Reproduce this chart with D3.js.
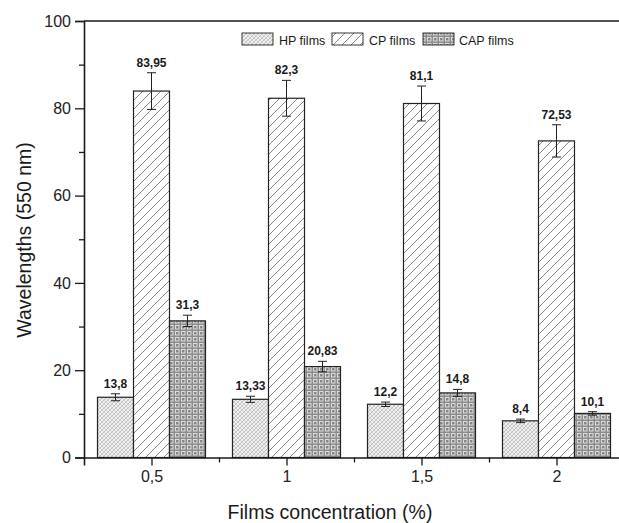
<!DOCTYPE html>
<html>
<head>
<meta charset="utf-8">
<script src="https://cdn.jsdelivr.net/npm/d3@7"></script>
<style>
  html, body { margin: 0; padding: 0; background: #fff; }
  svg { display: block; font-family: Arial, "Liberation Sans", sans-serif; }
</style>
</head>
<body>
<svg id="chart" width="619" height="523"></svg>
<script>
// Film concentrations (%) and measured values at 550 nm
const concentrations = [0.5, 1, 1.5, 2];
const tickLabels = ["0,5", "1", "1,5", "2"];
const seriesNames = ["HP films", "CP films", "CAP films"];
const hpValues  = [13.8, 13.33, 12.2, 8.4];
const cpValues  = [83.95, 82.3, 81.1, 72.53];
const capValues = [31.3, 20.83, 14.8, 10.1];
const hpErrors  = [0.8, 0.7, 0.5, 0.4];
const cpErrors  = [4.2, 4.1, 4.0, 3.7];
const capErrors = [1.3, 1.2, 0.8, 0.4];
const valueLabels = [
  ["13,8", "13,33", "12,2", "8,4"],
  ["83,95", "82,3", "81,1", "72,53"],
  ["31,3", "20,83", "14,8", "10,1"]
];
const yTicks = [0, 20, 40, 60, 80, 100];

const series = [
  { name: seriesNames[0], values: hpValues,  errors: hpErrors,  labels: valueLabels[0], fill: "url(#patHP)" },
  { name: seriesNames[1], values: cpValues,  errors: cpErrors,  labels: valueLabels[1], fill: "url(#patCP)" },
  { name: seriesNames[2], values: capValues, errors: capErrors, labels: valueLabels[2], fill: "url(#patCAP)" }
];

const svg = d3.select("#chart");

// Continuous x axis (0.25 .. 2.25); right end runs past the canvas edge
const x = d3.scaleLinear().domain([0.25, 2.25]).range([84, 624]);
const y = d3.scaleLinear().domain([0, 100]).range([457.5, 21]);

// ---- fill patterns ----
const defs = svg.append("defs");

// HP: fine light-grey cross hatch
const pHP = defs.append("pattern").attr("id", "patHP")
  .attr("patternUnits", "userSpaceOnUse").attr("width", 4).attr("height", 4);
pHP.append("rect").attr("width", 4).attr("height", 4).attr("fill", "#f2f2f2");
pHP.append("path").attr("d", "M0,4 L4,0 M-1,1 L1,-1 M3,5 L5,3")
  .attr("stroke", "#b0b0b0").attr("stroke-width", 0.8);
pHP.append("path").attr("d", "M0,0 L4,4 M-1,3 L1,5 M3,-1 L5,1")
  .attr("stroke", "#c4c4c4").attr("stroke-width", 0.7);

// CP: sparse forward diagonal lines
const pCP = defs.append("pattern").attr("id", "patCP")
  .attr("patternUnits", "userSpaceOnUse").attr("width", 9).attr("height", 9);
pCP.append("rect").attr("width", 9).attr("height", 9).attr("fill", "#fff");
pCP.append("path").attr("d", "M0,9 L9,0 M-2,2 L2,-2 M7,11 L11,7")
  .attr("stroke", "#6a6a6a").attr("stroke-width", 0.8);

// CAP: grey grid of small squares with dots
const pCAP = defs.append("pattern").attr("id", "patCAP")
  .attr("patternUnits", "userSpaceOnUse").attr("width", 6).attr("height", 6);
pCAP.append("rect").attr("width", 6).attr("height", 6).attr("fill", "#8c8c8c");
pCAP.append("rect").attr("x", 1.5).attr("y", 1.5).attr("width", 3.5).attr("height", 3.5)
  .attr("fill", "none").attr("stroke", "#e2e2e2").attr("stroke-width", 0.9);
pCAP.append("rect").attr("x", 2.8).attr("y", 2.8).attr("width", 1).attr("height", 1)
  .attr("fill", "#777");

// ---- bars ----
const barW = 36;
const offsets = [-1.5, -0.5, 0.5];

series.forEach((s, si) => {
  const g = svg.append("g");
  concentrations.forEach((c, i) => {
    const x0 = x(c) + offsets[si] * barW;
    const v = s.values[i];
    g.append("rect")
      .attr("x", x0).attr("y", y(v))
      .attr("width", barW).attr("height", y(0) - y(v))
      .attr("fill", s.fill).attr("stroke", "#222").attr("stroke-width", 1.2);
    // error bar
    const cx = x0 + barW / 2;
    const e = s.errors[i];
    g.append("line").attr("x1", cx).attr("x2", cx)
      .attr("y1", y(v + e)).attr("y2", y(v - e))
      .attr("stroke", "#222").attr("stroke-width", 1);
    [v + e, v - e].forEach(t => {
      g.append("line").attr("x1", cx - 4.5).attr("x2", cx + 4.5)
        .attr("y1", y(t)).attr("y2", y(t))
        .attr("stroke", "#222").attr("stroke-width", 1);
    });
    // value label
    g.append("text")
      .attr("x", cx).attr("y", y(v + e) - 6)
      .attr("text-anchor", "middle")
      .attr("font-size", 12).attr("font-weight", "bold")
      .attr("fill", "#1a1a1a")
      .text(s.labels[i]);
  });
});

// ---- axes ----
const axisColor = "#1a1a1a";

// frame top line
svg.append("line").attr("x1", 84).attr("x2", 619).attr("y1", 21).attr("y2", 21)
  .attr("stroke", axisColor).attr("stroke-width", 1.6);

// y axis
const yAxis = svg.append("g").attr("transform", "translate(84,0)")
  .call(d3.axisLeft(y).tickValues(yTicks).tickSize(9).tickPadding(4).tickFormat(d3.format("d")));
yAxis.selectAll(".tick text").attr("font-size", 16).attr("fill", "#222");
yAxis.select(".domain").attr("stroke", axisColor).attr("stroke-width", 1.6);
yAxis.selectAll(".tick line").attr("stroke", axisColor).attr("stroke-width", 1.3);
const yMinor = svg.append("g").attr("transform", "translate(84,0)")
  .call(d3.axisLeft(y).tickValues([10, 30, 50, 70, 90]).tickSize(5).tickFormat(""));
yMinor.select(".domain").remove();
yMinor.selectAll(".tick line").attr("stroke", axisColor).attr("stroke-width", 1.3);

// x axis
const xAxis = svg.append("g").attr("transform", `translate(0,${y(0)})`)
  .call(d3.axisBottom(x).tickValues(concentrations).tickSize(8).tickPadding(5)
    .tickFormat((d, i) => tickLabels[i]));
xAxis.selectAll(".tick text").attr("font-size", 16).attr("fill", "#222");
xAxis.select(".domain").attr("stroke", axisColor).attr("stroke-width", 1.6);
xAxis.selectAll(".tick line").attr("stroke", axisColor).attr("stroke-width", 1.3);
const xMinor = svg.append("g").attr("transform", `translate(0,${y(0)})`)
  .call(d3.axisBottom(x).tickValues([0.75, 1.25, 1.75]).tickSize(5).tickFormat(""));
xMinor.select(".domain").remove();
xMinor.selectAll(".tick line").attr("stroke", axisColor).attr("stroke-width", 1.3);

// axis titles
svg.append("text")
  .attr("x", 330).attr("y", 519)
  .attr("text-anchor", "middle").attr("font-size", 19.5).attr("fill", "#1a1a1a")
  .text("Films concentration (%)");
svg.append("text")
  .attr("transform", "translate(31,240) rotate(-90)")
  .attr("text-anchor", "middle").attr("font-size", 19.5).attr("fill", "#1a1a1a")
  .text("Wavelengths (550 nm)");

// ---- legend ----
const legendItems = [
  { x: 242, tx: 279 },
  { x: 332, tx: 369 },
  { x: 423, tx: 459 }
];
series.forEach((s, i) => {
  svg.append("rect")
    .attr("x", legendItems[i].x).attr("y", 33)
    .attr("width", 31).attr("height", 12)
    .attr("fill", s.fill).attr("stroke", "#222").attr("stroke-width", 0.9);
  svg.append("text")
    .attr("x", legendItems[i].tx).attr("y", 45)
    .attr("font-size", 12.5).attr("fill", "#1a1a1a")
    .text(s.name);
});
</script>
</body>
</html>
